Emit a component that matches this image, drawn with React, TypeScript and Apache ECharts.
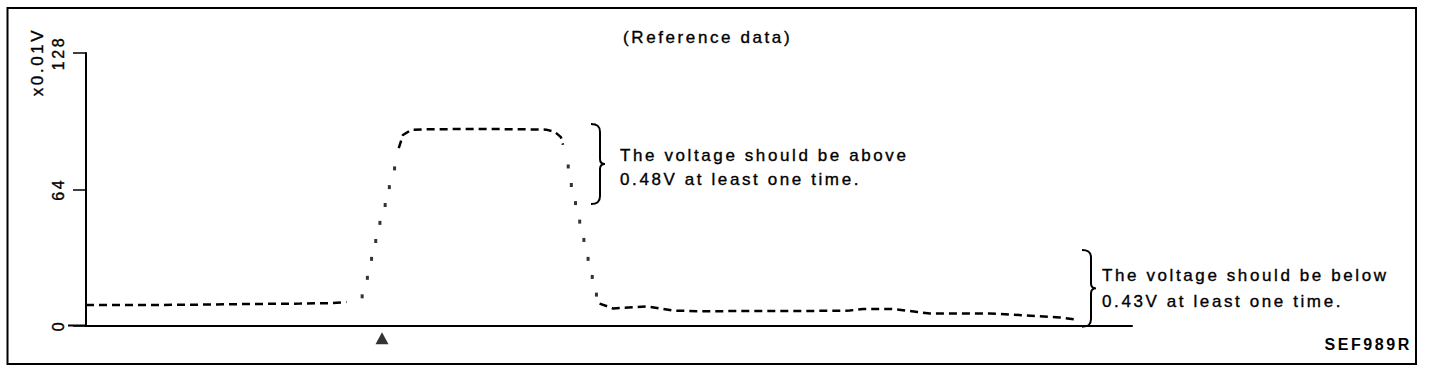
import React, { useEffect, useRef } from "react";
import * as echarts from "echarts";

// ---- data ----
const Y_TICKS = [0, 64, 128];
const Y_UNIT = "x0.01V";
const TITLE = "(Reference data)";
const NOTE_ABOVE = ["The voltage should be above", "0.48V at least one time."];
const NOTE_BELOW = ["The voltage should be below", "0.43V at least one time."];
const CODE = "SEF989R";

const LOW_T = [0, 6.1, 10.9, 15.7, 20.5, 23.3, 24.9];
const LOW_V = [9.6, 9.6, 9.8, 10.1, 10.3, 10.5, 11.0];
const RISE_T = [26.4, 26.9, 27.3, 27.7, 28.1, 28.6, 29.0, 29.5];
const RISE_V = [13.7, 22.4, 31.3, 39.7, 48.2, 56.6, 65.0, 73.8];
const TOP_T = [29.9, 30.3, 31.1, 32.9, 37.7, 41.5, 44.0, 44.8, 45.4, 45.6];
const TOP_V = [83.3, 89.5, 91.9, 92.2, 92.3, 92.2, 92.0, 91.0, 88.5, 84.9];
const FALL_T = [46.1, 46.4, 46.8, 47.2, 47.6, 48.0, 48.4, 48.8];
const FALL_V = [74.7, 66.0, 57.5, 48.8, 40.2, 31.3, 22.8, 14.5];
const TAIL_T = [49.1, 50.4, 52.3, 53.6, 54.9, 56.1, 58.7, 63.5, 68.3, 73.0, 74.3, 76.9, 78.1, 79.5, 80.7, 83.6, 86.4, 88.3, 90.9, 93.1, 94.7];
const TAIL_V = [10.3, 8.0, 8.6, 9.0, 8.0, 7.0, 6.7, 6.8, 6.8, 7.0, 7.8, 7.8, 7.2, 6.3, 5.6, 5.6, 5.6, 5.2, 4.4, 3.8, 2.8];
const TRIGGER_T = [28.3];
const TRIGGER_V = [-6];

const FONT = "'Liberation Sans', Arial, sans-serif";
const BRACE_D =
  "M0 0 C6 0 9 2 9 8 L9 35 C9 38 11 40 14 40 C11 40 9 42 9 45 L9 72 C9 78 6 80 0 80";

echarts.graphic.registerShape("brace", echarts.graphic.extendPath(BRACE_D, {}));

const zip = (t: number[], v: number[]) => t.map((x, i) => [x, v[i]]);

export default function App() {
  const ref = useRef<HTMLDivElement>(null);

  useEffect(() => {
    document.body.style.margin = "0";
    const chart = echarts.init(ref.current!, null, { renderer: "svg" });

    const dashed = { color: "#000", width: 2.5, type: [8, 5] as number[] };
    const txt = (x: number, y: number, s: string, extra: any = {}) => ({
      type: "text",
      x,
      y,
      rotation: extra.rotation || 0,
      style: {
        text: s,
        fill: "#000",
        stroke: "#000",
        lineWidth: extra.weight === "bold" ? 0 : 0.35,
        font: `${extra.weight || "normal"} ${extra.size || 17}px ${FONT}`,
        align: extra.align || "left",
        verticalAlign: "middle",
      },
    });

    chart.setOption({
      animation: false,
      backgroundColor: "#fff",
      grid: { left: 86, right: 308, top: 53, bottom: 50.5 },
      xAxis: {
        type: "value",
        min: 0,
        max: 100,
        axisLine: { show: true, lineStyle: { color: "#000", width: 2 } },
        axisTick: { show: false },
        axisLabel: { show: false },
        splitLine: { show: false },
      },
      yAxis: {
        type: "value",
        min: Y_TICKS[0],
        max: Y_TICKS[Y_TICKS.length - 1],
        interval: Y_TICKS[1] - Y_TICKS[0],
        axisLine: { show: true, lineStyle: { color: "#000", width: 2 } },
        axisTick: { show: true, length: 13, lineStyle: { color: "#000", width: 1.5 } },
        axisLabel: {
          rotate: 90,
          margin: 20,
          color: "#000",
          fontSize: 16,
          fontFamily: FONT,
          textBorderColor: "#000",
          textBorderWidth: 0.35,
        },
        splitLine: { show: false },
      },
      series: [
        { type: "line", data: zip(LOW_T, LOW_V), showSymbol: false, symbol: "none", lineStyle: dashed },
        { type: "scatter", data: zip(RISE_T, RISE_V), symbol: "rect", symbolSize: [3, 4], itemStyle: { color: "#000" } },
        { type: "line", data: zip(TOP_T, TOP_V), showSymbol: false, symbol: "none", lineStyle: dashed },
        { type: "scatter", data: zip(FALL_T, FALL_V), symbol: "rect", symbolSize: [3, 4], itemStyle: { color: "#000" } },
        { type: "line", data: zip(TAIL_T, TAIL_V), showSymbol: false, symbol: "none", lineStyle: dashed },
        {
          type: "scatter",
          data: zip(TRIGGER_T, TRIGGER_V),
          symbol: "triangle",
          symbolSize: [13, 12],
          clip: false,
          itemStyle: { color: "#000" },
        },
      ],
      graphic: [
        {
          type: "rect",
          shape: { x: 7.5, y: 8, width: 1408.5, height: 356 },
          style: { fill: "none", stroke: "#000", lineWidth: 2 },
        },
        {
          type: "line",
          shape: { x1: 68, y1: 325.5, x2: 86, y2: 325.5 },
          style: { stroke: "#000", lineWidth: 2 },
        },
        txt(37, 62, Y_UNIT, { rotation: Math.PI / 2, align: "center" }),
        txt(623, 37.5, TITLE),
        { type: "brace", x: 591, y: 124, style: { fill: "none", stroke: "#000", lineWidth: 2 } },
        txt(620, 155.7, NOTE_ABOVE[0]),
        txt(620, 179, NOTE_ABOVE[1]),
        { type: "brace", x: 1082, y: 250, scaleY: 0.96, style: { fill: "none", stroke: "#000", lineWidth: 2 } },
        txt(1102, 275.7, NOTE_BELOW[0]),
        txt(1102, 301.7, NOTE_BELOW[1]),
        txt(1412, 344, CODE, { weight: "bold", size: 16, align: "right" }),
      ],
    });

    return () => chart.dispose();
  }, []);

  return (
    <div>
      <style>{`.ref-chart text{letter-spacing:2.6px}`}</style>
      <div className="ref-chart" ref={ref} style={{ width: 1440, height: 376 }} />
    </div>
  );
}
